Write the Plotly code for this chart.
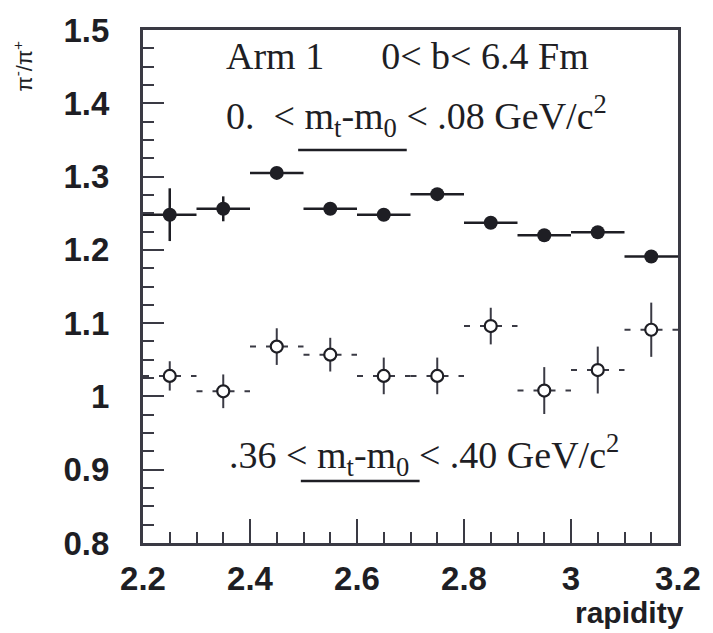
import plotly.graph_objects as go

# Data
rapidity = [2.25, 2.35, 2.45, 2.55, 2.65, 2.75, 2.85, 2.95, 3.05, 3.15]
bin_half = [0.05] * 10

low_mt_ratio = [1.248, 1.256, 1.305, 1.256, 1.248, 1.276, 1.237, 1.220, 1.224, 1.191]
low_mt_err = [0.036, 0.017, 0.008, 0.008, 0.007, 0.008, 0.008, 0.008, 0.008, 0.008]

high_mt_ratio = [1.028, 1.007, 1.068, 1.057, 1.028, 1.028, 1.096, 1.008, 1.036, 1.091]
high_mt_err = [0.020, 0.023, 0.025, 0.023, 0.025, 0.025, 0.025, 0.032, 0.032, 0.037]

x_ticks = [2.2, 2.4, 2.6, 2.8, 3.0, 3.2]
x_ticklabels = ["2.2", "2.4", "2.6", "2.8", "3", "3.2"]
y_ticks = [0.8, 0.9, 1.0, 1.1, 1.2, 1.3, 1.4, 1.5]
y_ticklabels = ["0.8", "0.9", "1", "1.1", "1.2", "1.3", "1.4", "1.5"]

INK = "#1e1e24"

fig = go.Figure()

# high m_t: dashed horizontal bin bars built from the data
hx, hy = [], []
for x, h, y in zip(rapidity, bin_half, high_mt_ratio):
    hx += [x - h, x + h, None]
    hy += [y, y, None]
fig.add_trace(go.Scatter(
    x=hx, y=hy, mode="lines",
    line=dict(color="#3a3a44", width=2, dash="6px,10px"),
    hoverinfo="skip", showlegend=False))

# low m_t: filled circles
fig.add_trace(go.Scatter(
    x=rapidity, y=low_mt_ratio, mode="markers",
    marker=dict(symbol="circle", size=14, color=INK),
    error_x=dict(type="data", array=bin_half, width=0, thickness=2.5, color=INK),
    error_y=dict(type="data", array=low_mt_err, width=0, thickness=2.5, color=INK),
    showlegend=False))

# high m_t: open markers
fig.add_trace(go.Scatter(
    x=rapidity, y=high_mt_ratio, mode="markers",
    marker=dict(symbol="circle", size=12, color="white",
                line=dict(color=INK, width=2.2)),
    error_y=dict(type="data", array=high_mt_err, width=0, thickness=2, color="#3a3a44"),
    showlegend=False))

tickfont = dict(family="Liberation Sans", size=33, color=INK, weight="bold")

fig.update_layout(
    width=713, height=633,
    margin=dict(l=143, r=28, t=22, b=90),
    paper_bgcolor="white", plot_bgcolor="white",
    xaxis=dict(
        range=[2.2, 3.2], tickvals=x_ticks, ticktext=x_ticklabels,
        ticks="inside", ticklen=24, tickwidth=2, tickcolor="#3a3a44",
        minor=dict(dtick=0.05, ticks="inside", ticklen=11, tickwidth=2, tickcolor="#3a3a44", showgrid=False),
        showgrid=False, zeroline=False,
        showline=True, linewidth=3, linecolor="#3a3a44", mirror=True,
        tickfont=tickfont, ticklabelstandoff=4),
    yaxis=dict(
        range=[0.8, 1.5], tickvals=y_ticks, ticktext=y_ticklabels,
        ticks="inside", ticklen=21, tickwidth=2, tickcolor="#3a3a44",
        minor=dict(dtick=0.025, ticks="inside", ticklen=11, tickwidth=2, tickcolor="#3a3a44", showgrid=False),
        showgrid=False, zeroline=False,
        showline=True, linewidth=3, linecolor="#3a3a44", mirror=True,
        tickfont=tickfont, ticklabelstandoff=24),
)

serif = dict(family="Liberation Serif", size=38, color=INK)

fig.add_annotation(xref="paper", yref="paper", x=0.151, y=0.95, xanchor="left", yanchor="middle",
                   text="Arm 1\u00a0\u00a0\u00a0\u00a0\u00a0 0< b< 6.4 Fm", showarrow=False, font=serif)
fig.add_annotation(xref="paper", yref="paper", x=0.151, y=0.833, xanchor="left", yanchor="middle",
                   text="0.\u00a0 < m<sub>t</sub>-m<sub>0</sub> < .08 GeV/c<sup>2</sup>", showarrow=False, font=serif)
fig.add_annotation(xref="paper", yref="paper", x=0.157, y=0.172, xanchor="left", yanchor="middle",
                   text=".36 < m<sub>t</sub>-m<sub>0</sub> < .40 GeV/c<sup>2</sup>", showarrow=False, font=serif)

# underlines
fig.add_shape(type="line", xref="paper", yref="paper", x0=0.290, x1=0.493, y0=0.766, y1=0.766,
              line=dict(color=INK, width=2.5))
fig.add_shape(type="line", xref="paper", yref="paper", x0=0.295, x1=0.517, y0=0.121, y1=0.121,
              line=dict(color=INK, width=2.5))

# axis titles
fig.add_annotation(xref="paper", yref="paper", x=1.015, y=-0.172, xanchor="right", yanchor="bottom",
                   text="rapidity", showarrow=False,
                   font=dict(family="Liberation Sans", size=30, color=INK, weight="bold"))
fig.add_annotation(xref="paper", yref="paper", x=-0.225, y=0.93, xanchor="center", yanchor="middle",
                   text="\u03c0<sup>-</sup>/\u03c0<sup>+</sup>", textangle=-90, showarrow=False,
                   font=dict(family="Liberation Sans", size=22, color=INK))

fig.write_html("out.html")
